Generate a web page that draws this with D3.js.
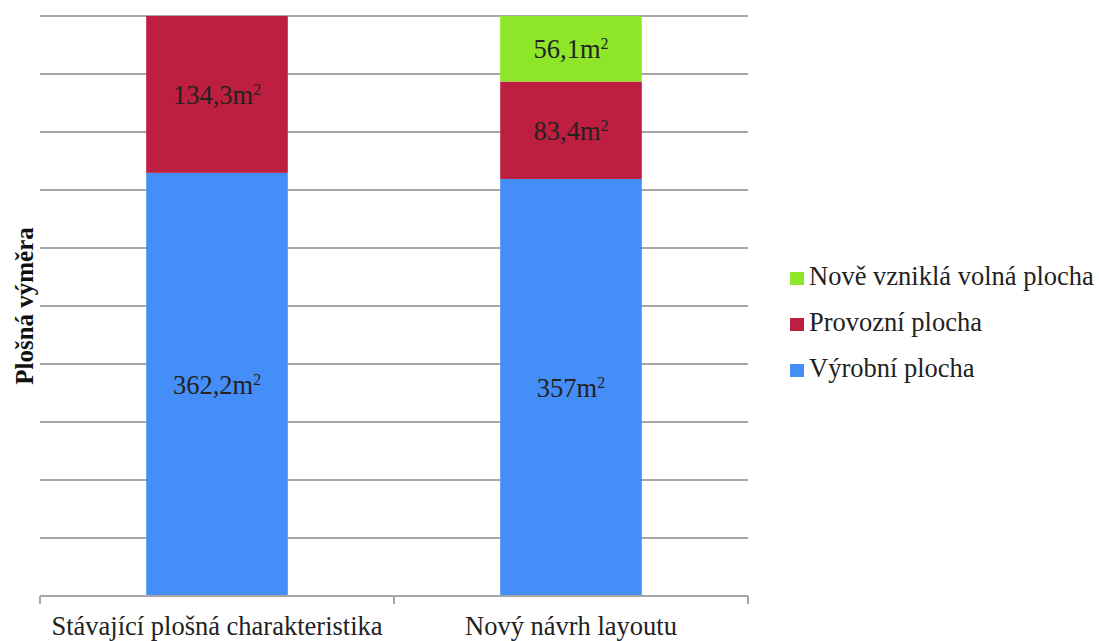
<!DOCTYPE html>
<html>
<head>
<meta charset="utf-8">
<script src="https://cdn.jsdelivr.net/npm/d3@7"></script>
</head>
<body style="margin:0;padding:0;background:#fff">
<svg id="chart" width="1099" height="641" style="display:block"></svg>
<script>
// Area breakdown per layout variant (m²)
const categories = ["Stávající plošná charakteristika", "Nový návrh layoutu"];
const seriesNames = ["Výrobní plocha", "Provozní plocha", "Nově vzniklá volná plocha"];
const vyrobni = [362.2, 357];
const provozni = [134.3, 83.4];
const volna = [0, 56.1];
const valueLabels = [["362,2", "357"], ["134,3", "83,4"], [null, "56,1"]];
const colors = ["#468ef7", "#be1f40", "#8fe528"];
const yTicks = d3.range(0, 1.0001, 0.1);

const FONT = "Liberation Serif, Times New Roman, serif";

const rows = categories.map((c, i) => ({
  cat: c,
  "Výrobní plocha": vyrobni[i],
  "Provozní plocha": provozni[i],
  "Nově vzniklá volná plocha": volna[i]
}));

const svg = d3.select("#chart");
const margin = { left: 40, right: 351, top: 16, bottom: 45 };
const W = 1099, H = 641;

const x = d3.scaleBand().domain(categories)
  .range([margin.left, W - margin.right])
  .paddingInner(0.6).paddingOuter(0.3);
const y = d3.scaleLinear().domain([0, 1]).range([H - margin.bottom, margin.top]);

// 100% stacking
const stack = d3.stack().keys(seriesNames).offset(d3.stackOffsetExpand);
const layers = stack(rows);

// Horizontal gridlines
svg.append("g")
  .selectAll("line")
  .data(yTicks.slice(1))
  .join("line")
  .attr("x1", margin.left).attr("x2", W - margin.right)
  .attr("y1", d => y(d)).attr("y2", d => y(d))
  .attr("stroke", "#a6a6a6").attr("stroke-width", 2);

// Bars
const gLayers = svg.append("g").selectAll("g")
  .data(layers).join("g")
  .attr("fill", (d, i) => colors[i]);

gLayers.selectAll("rect")
  .data(d => d)
  .join("rect")
  .attr("x", d => x(d.data.cat))
  .attr("width", x.bandwidth())
  .attr("y", d => y(d[1]))
  .attr("height", d => y(d[0]) - y(d[1]));

// Value labels inside segments
layers.forEach((layer, si) => {
  layer.forEach((d, ci) => {
    const lab = valueLabels[si][ci];
    if (lab === null || d[1] - d[0] <= 0) return;
    const t = svg.append("text")
      .attr("x", x(d.data.cat) + x.bandwidth() / 2)
      .attr("y", (y(d[0]) + y(d[1])) / 2 + 9.5)
      .attr("text-anchor", "middle")
      .style("font-family", FONT)
      .style("font-size", "26.5px")
      .attr("fill", "#222");
    t.append("tspan").text(lab + "m");
    t.append("tspan").style("font-size", "16px").attr("dy", -9).text("2");
  });
});

// X axis
const xAxis = svg.append("g")
  .attr("transform", `translate(0,${H - margin.bottom})`);
xAxis.append("line")
  .attr("x1", margin.left).attr("x2", W - margin.right)
  .attr("stroke", "#a6a6a6").attr("stroke-width", 2);
const bounds = [margin.left, margin.left + x.step(), W - margin.right];
xAxis.selectAll("line.tick")
  .data(bounds).join("line")
  .attr("class", "tick")
  .attr("x1", d => d).attr("x2", d => d)
  .attr("y1", 0).attr("y2", 8)
  .attr("stroke", "#a6a6a6").attr("stroke-width", 2);
xAxis.selectAll("text")
  .data(categories).join("text")
  .attr("x", d => x(d) + x.bandwidth() / 2)
  .attr("y", 38.5)
  .attr("text-anchor", "middle")
  .style("font-family", FONT)
  .style("font-size", "26.5px")
  .attr("fill", "#222")
  .text(d => d);

// Y axis title
svg.append("text")
  .attr("transform", `translate(33,${(margin.top + H - margin.bottom) / 2}) rotate(-90)`)
  .attr("text-anchor", "middle")
  .style("font-family", FONT)
  .style("font-size", "25px")
  .style("font-weight", "bold")
  .attr("fill", "#111")
  .text("Plošná výměra");

// Legend (top series first)
const legendItems = seriesNames.map((n, i) => ({ name: n, color: colors[i] })).reverse();
const legend = svg.append("g").attr("transform", "translate(790,285)");
const li = legend.selectAll("g").data(legendItems).join("g")
  .attr("transform", (d, i) => `translate(0,${i * 46})`);
li.append("rect")
  .attr("x", 0).attr("y", -13).attr("width", 14).attr("height", 13)
  .attr("fill", d => d.color);
li.append("text")
  .attr("x", 19).attr("y", 0)
  .style("font-family", FONT)
  .style("font-size", "26.5px")
  .attr("fill", "#222")
  .text(d => d.name);
</script>
</body>
</html>
